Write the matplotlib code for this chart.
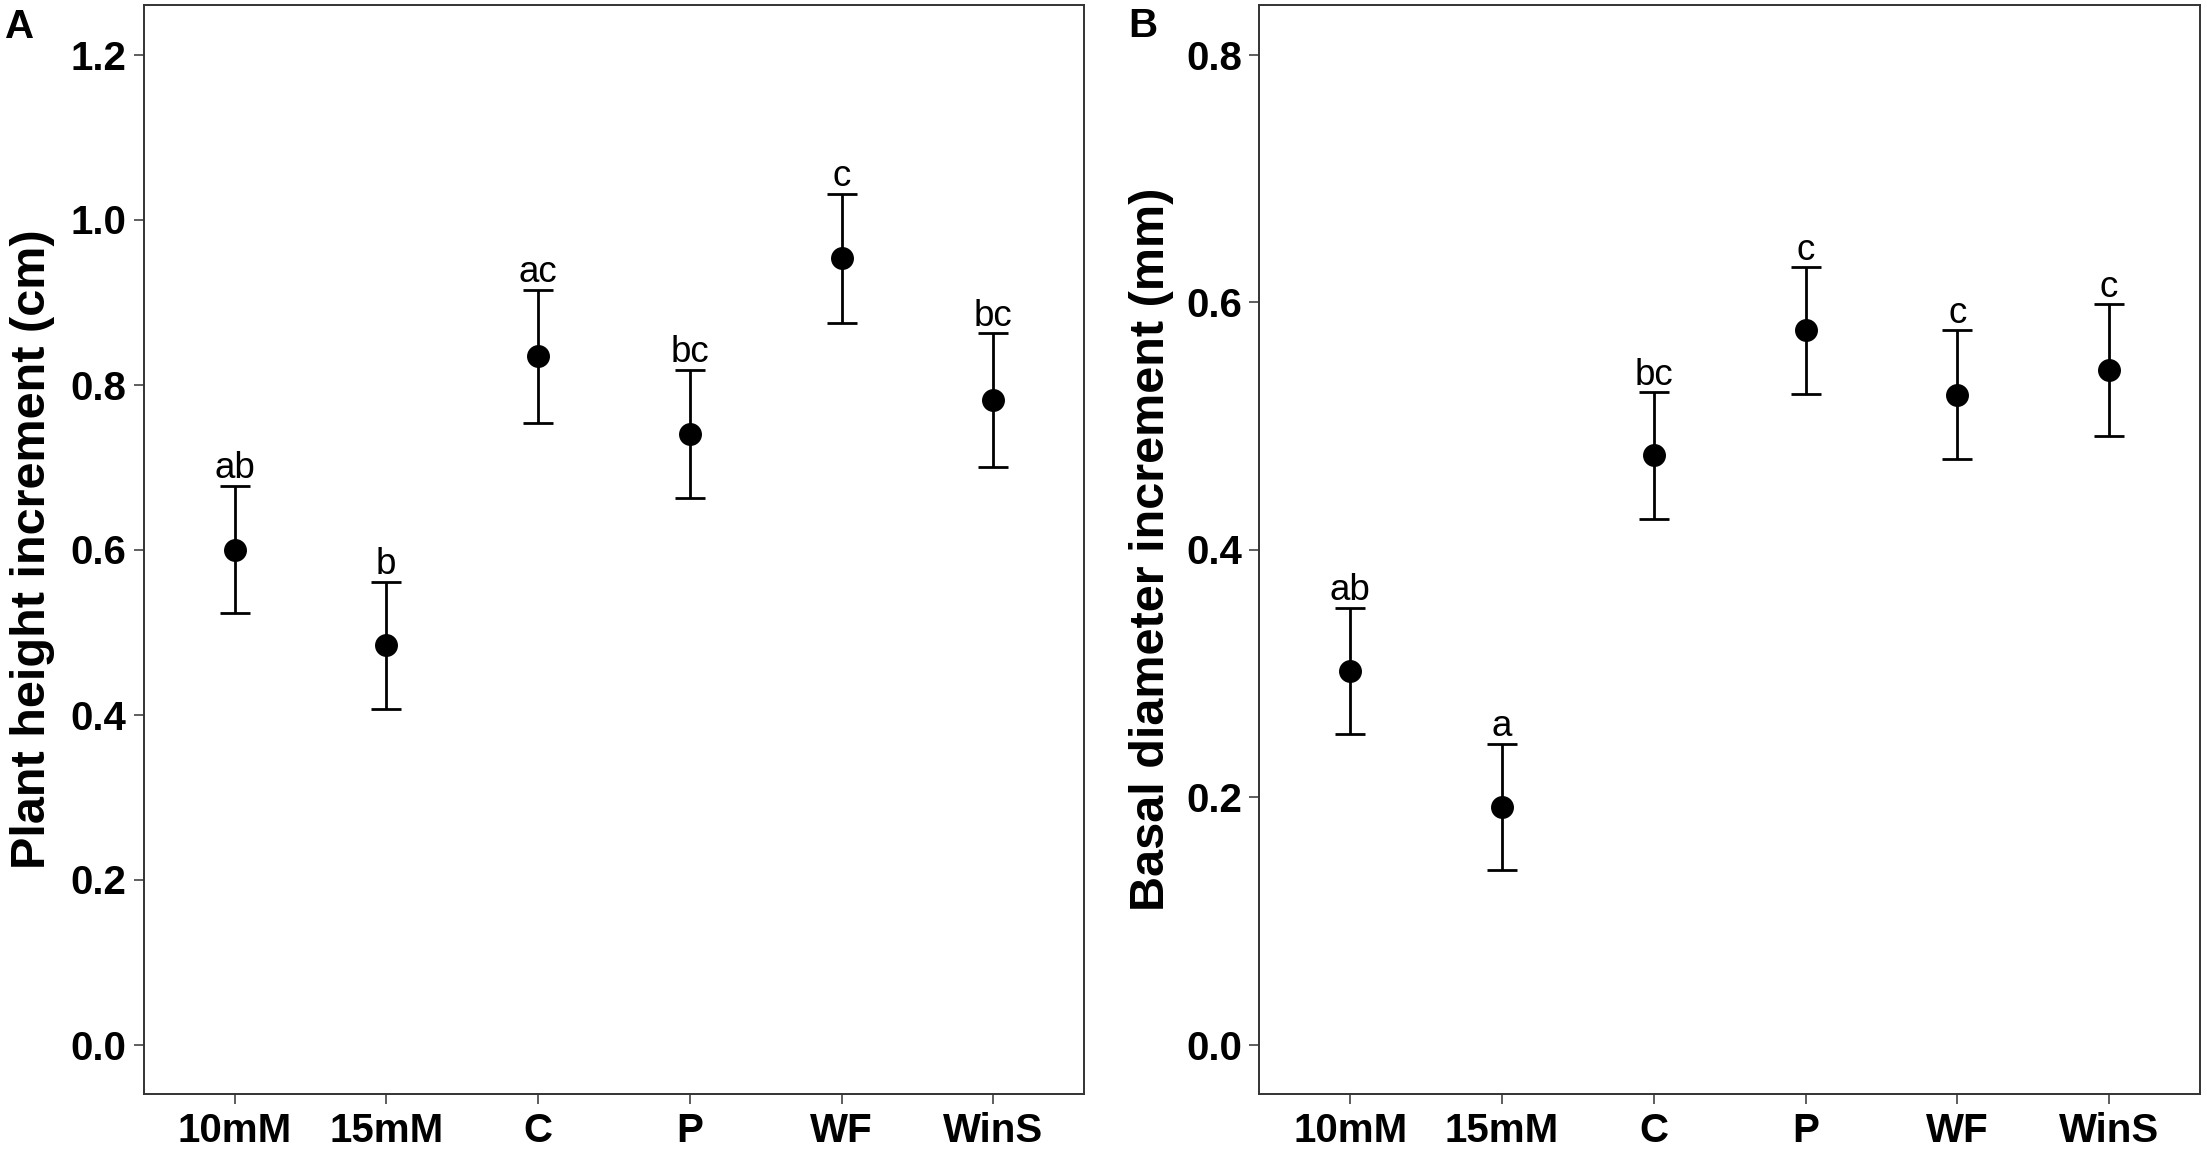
import matplotlib
matplotlib.use("Agg")
import matplotlib.pyplot as plt
import numpy as np

plt.rcParams["font.family"] = ["Liberation Sans", "DejaVu Sans"]

treatments = ["10mM", "15mM", "C", "P", "WF", "WinS"]

height_mean = [0.600, 0.484, 0.834, 0.740, 0.953, 0.781]
height_se = [0.077, 0.077, 0.081, 0.078, 0.078, 0.081]
height_letters = ["ab", "b", "ac", "bc", "c", "bc"]

diam_mean = [0.302, 0.192, 0.476, 0.577, 0.525, 0.545]
diam_se = [0.051, 0.051, 0.051, 0.051, 0.052, 0.053]
diam_letters = ["ab", "a", "bc", "c", "c", "c"]

W, H = 2207, 1150
fig = plt.figure(figsize=(W / 100, H / 100), dpi=100)

ax_w = 940.8 / W
ax_b = 1 - 1094 / H
ax_h = (1094 - 5) / H
ax_a = fig.add_axes([143.5 / W, ax_b, ax_w, ax_h])
ax_bb = fig.add_axes([1259.3 / W, ax_b, ax_w, ax_h])

BORDER = "#333333"


def panel(ax, means, ses, letters, ylim, yticks, ylabel, label_x):
    x = np.arange(len(treatments))
    ax.errorbar(x, means, yerr=ses, fmt="o", color="black", ecolor="black",
                elinewidth=2.0, capsize=10.8, capthick=2.0, markersize=15.5,
                zorder=3)
    # significance letters sit just above the upper cap
    for xi, m, s, lab in zip(x, means, ses, letters):
        ax.annotate(lab, (xi, m + s), xytext=(0, 5.5), textcoords="offset points",
                    ha="center", va="baseline", fontsize=26.5, color="black")
    ax.set_xlim(-0.6, len(treatments) - 0.4)
    ax.set_ylim(*ylim)
    ax.set_xticks(x)
    ax.set_xticklabels(treatments, fontsize=29, fontweight="bold")
    ax.set_yticks(yticks)
    ax.set_yticklabels([f"{t:.1f}" for t in yticks], fontsize=29, fontweight="bold")
    ax.tick_params(axis="both", length=7.2, width=1.1, color=BORDER)
    ax.tick_params(axis="y", pad=5)
    ax.tick_params(axis="x", pad=5.8)
    for sp in ax.spines.values():
        sp.set_color(BORDER)
        sp.set_linewidth(1.4)
    ax.set_ylabel(ylabel, fontsize=35, fontweight="bold", va="center")
    ax.yaxis.set_label_coords(label_x, 0.5)


panel(ax_a, height_mean, height_se, height_letters, (-0.06, 1.26),
      [0.0, 0.2, 0.4, 0.6, 0.8, 1.0, 1.2], "Plant height increment (cm)", -0.1175)
panel(ax_bb, diam_mean, diam_se, diam_letters, (-0.04, 0.84),
      [0.0, 0.2, 0.4, 0.6, 0.8], "Basal diameter increment (mm)", -0.1151)

fig.text(5 / W, 1 - 8 / H, "A", ha="left", va="top", fontsize=29, fontweight="bold")
fig.text(1128 / W, 1 - 7 / H, "B", ha="left", va="top", fontsize=29, fontweight="bold")

fig.savefig("out.png", dpi=100)
